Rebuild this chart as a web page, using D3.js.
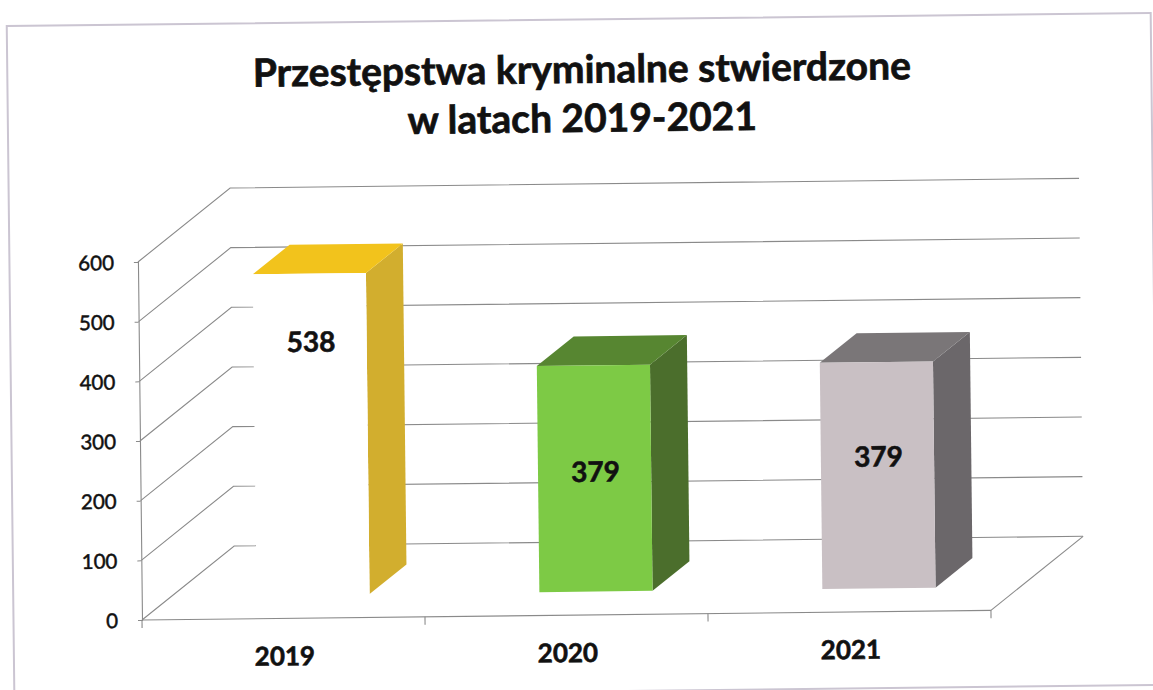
<!DOCTYPE html>
<html><head><meta charset="utf-8">
<script src="https://cdn.jsdelivr.net/npm/d3@7"></script>
<style>body{margin:0;background:#fff} svg{display:block}</style>
</head><body>
<svg id="c" width="1153" height="690"></svg>
<script>
// ---- data ----
const categories = ["2019", "2020", "2021"];
const values = [538, 379, 379];
const yTicks = [0, 100, 200, 300, 400, 500, 600];
const titleLines = ["Przestępstwa kryminalne stwierdzone", "w latach 2019-2021"];

// ---- style / layout ----
const colors = [
  {front: "#ffffff", side: "#d2ae2e", top: "#f2c31c"},
  {front: "#7dca45", side: "#4b6e2c", top: "#578631"},
  {front: "#c9c0c4", side: "#6b676a", top: "#7a7678"}
];
const labelAt = [424, 201, 221]; // label anchor height in data units
const font = "Lato, 'Open Sans', sans-serif";
const gridColor = "#8a8a8a";

const svg = d3.select("#c");
const g = svg.append("g").attr("transform", "rotate(-0.65,142,620)");

const x = d3.scaleBand().domain(categories).range([142, 991]);
const y = d3.scaleLinear().domain([0, 600]).range([620, 262]);
const D = [93, -73];
const f0 = 0.32, f1 = 0.72;

// frame
g.append("rect").attr("x", 13.5).attr("y", 24.5).attr("width", 1144).attr("height", 672)
  .attr("fill", "none").attr("stroke", "#cbc5d2").attr("stroke-width", 2);

// gridlines: left wall diagonals + back wall
const grid = g.append("g").attr("stroke", gridColor).attr("stroke-width", 1.1).attr("fill", "none");
yTicks.forEach(t => {
  const y0 = y(t);
  grid.append("path").attr("d", `M${x.range()[0]},${y0}L${x.range()[0] + D[0]},${y0 + D[1]}L${x.range()[1] + D[0]},${y0 + D[1]}`);
});
// floor right edge
grid.append("path").attr("d", `M${x.range()[1]},${y(0)}L${x.range()[1] + D[0]},${y(0) + D[1]}`);

// x axis (front floor edge)
const xAxis = g.append("g").attr("transform", `translate(0,${y(0)})`)
  .call(d3.axisBottom(x).tickSize(0).tickFormat(""));
xAxis.select(".domain").attr("stroke", gridColor).attr("stroke-width", 1.1).attr("d", `M${x.range()[0]},0H${x.range()[1]}`);
const bounds = categories.map(c => x(c)).concat([x.range()[1]]);
xAxis.selectAll(".bt").data(bounds).join("line").attr("class", "bt")
  .attr("x1", d => d).attr("x2", d => d).attr("y1", 0).attr("y2", 8)
  .attr("stroke", gridColor).attr("stroke-width", 1.1);

// y axis
const yAxis = g.append("g").attr("transform", `translate(${x.range()[0]},0)`)
  .call(d3.axisLeft(y).tickValues(yTicks).tickSize(4).tickPadding(20).tickFormat(d3.format("d")));
yAxis.select(".domain").attr("stroke", gridColor).attr("stroke-width", 1.1);
yAxis.selectAll(".tick line").attr("stroke", gridColor);
yAxis.selectAll(".tick text").attr("font-family", font).attr("font-size", 20.5)
  .attr("fill", "#111").attr("stroke", "#111").attr("stroke-width", 0.5).attr("dy", "0.36em");

// bars
const bw = x.bandwidth() * 0.4;
const bars = g.append("g");
categories.forEach((c, i) => {
  const xl = x(c) + x.bandwidth() * 0.3 + D[0] * f0;
  const xr = xl + bw;
  const bot = y(0) + D[1] * f0;
  const top = y(values[i]) + D[1] * f0;
  const dx = D[0] * (f1 - f0), dy = D[1] * (f1 - f0);
  const col = colors[i];
  bars.append("polygon").attr("points", [[xr, top], [xr + dx, top + dy], [xr + dx, bot + dy], [xr, bot]].join(" "))
    .attr("fill", col.side);
  bars.append("polygon").attr("points", [[xl, top], [xl + dx, top + dy], [xr + dx, top + dy], [xr, top]].join(" "))
    .attr("fill", col.top);
  bars.append("rect").attr("x", xl).attr("y", top).attr("width", bw).attr("height", bot - top)
    .attr("fill", col.front);
  bars.append("text").attr("x", (xl + xr) / 2 + 1).attr("y", y(labelAt[i]) + D[1] * f0)
    .attr("dy", "0.36em").attr("text-anchor", "middle")
    .attr("font-family", font).attr("font-weight", 700).attr("font-size", 28).attr("fill", "#111")
    .attr("stroke", "#111").attr("stroke-width", 0.6)
    .text(values[i]);
});

// category labels
g.append("g").selectAll("text").data(categories).join("text")
  .attr("x", d => x(d) + x.bandwidth() / 2 + 1).attr("y", 667)
  .attr("text-anchor", "middle").attr("font-family", font).attr("font-weight", 700)
  .attr("font-size", 26).attr("fill", "#111").attr("stroke", "#111").attr("stroke-width", 0.6)
  .text(d => d);

// title
g.append("g").selectAll("text").data(titleLines).join("text")
  .attr("x", 588).attr("y", (d, i) => 88 + i * 49)
  .attr("text-anchor", "middle").attr("font-family", font).attr("font-weight", 700)
  .attr("font-size", 39).attr("fill", "#111").attr("stroke", "#111").attr("stroke-width", 0.7)
  .text(d => d);
</script>
</body></html>
